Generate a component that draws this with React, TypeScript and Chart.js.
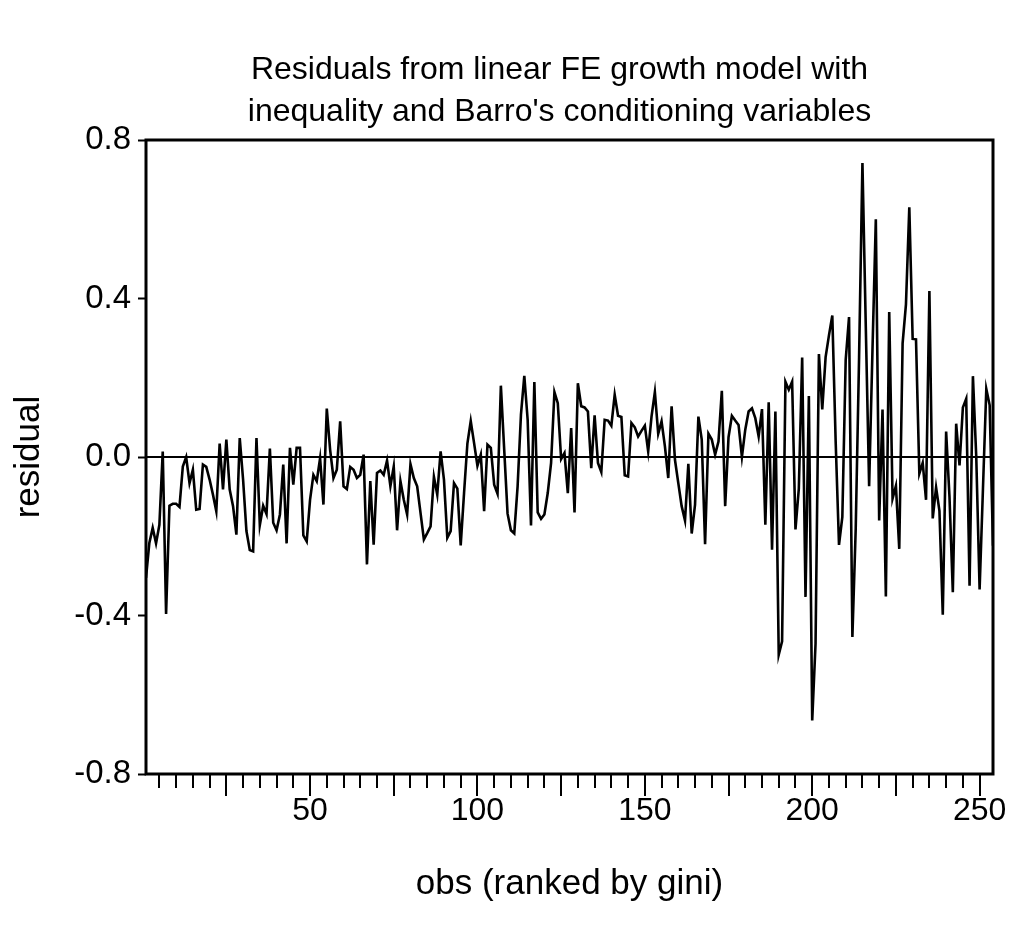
import React, { useEffect, useRef } from "react";
import { Chart, registerables } from "chart.js";

Chart.register(...registerables);

// Chart text
const titleLines = [
  "Residuals from linear FE growth model with",
  "inequality and Barro's conditioning variables",
];
const yAxisTitle = "residual";
const xAxisTitle = "obs (ranked by gini)";

// Residuals, one per observation (observations ranked by gini)
const residuals = [
  -0.305, -0.217, -0.179, -0.218, -0.171, 0.014, -0.396, -0.123, -0.118, -0.118,
  -0.126, -0.024, 0.0, -0.066, -0.032, -0.133, -0.131, -0.019, -0.025, -0.057,
  -0.095, -0.137, 0.034, -0.082, 0.044, -0.082, -0.124, -0.196, 0.048, -0.057,
  -0.187, -0.235, -0.238, 0.048, -0.172, -0.123, -0.144, 0.021, -0.166, -0.185,
  -0.145, -0.019, -0.218, 0.023, -0.07, 0.023, 0.023, -0.198, -0.213, -0.108,
  -0.045, -0.061, -0.003, -0.12, 0.122, 0.018, -0.053, -0.032, 0.09, -0.074,
  -0.081, -0.025, -0.032, -0.053, -0.045, 0.006, -0.271, -0.061, -0.221, -0.04,
  -0.034, -0.045, -0.009, -0.074, -0.024, -0.185, -0.061, -0.108, -0.145, -0.018,
  -0.053, -0.074, -0.141, -0.208, -0.192, -0.175, -0.05, -0.095, 0.014, -0.057,
  -0.204, -0.187, -0.066, -0.08, -0.223, -0.091, 0.034, 0.091, 0.035, -0.022,
  0.006, -0.137, 0.031, 0.023, -0.07, -0.093, 0.18, 0.018, -0.143, -0.185,
  -0.193, -0.074, 0.107, 0.205, 0.094, -0.173, 0.189, -0.14, -0.156, -0.145,
  -0.091, -0.015, 0.164, 0.136, -0.005, 0.01, -0.091, 0.073, -0.14, 0.186,
  0.128, 0.125, 0.115, -0.028, 0.105, -0.015, -0.038, 0.094, 0.092, 0.079,
  0.157, 0.104, 0.101, -0.046, -0.049, 0.086, 0.075, 0.052, 0.066, 0.079,
  0.014, 0.102, 0.164, 0.059, 0.09, 0.027, -0.053, 0.128, -0.007, -0.066,
  -0.124, -0.16, -0.017, -0.193, -0.12, 0.102, 0.044, -0.22, 0.059, 0.044,
  0.006, 0.039, 0.167, -0.124, 0.05, 0.104, 0.092, 0.081, 0.0, 0.069,
  0.115, 0.123, 0.098, 0.052, 0.121, -0.171, 0.138, -0.234, 0.115, -0.499,
  -0.465, 0.19, 0.17, 0.19, -0.183, -0.08, 0.251, -0.353, 0.154, -0.665,
  -0.47, 0.26, 0.12, 0.252, 0.307, 0.357, 0.04, -0.222, -0.151, 0.245,
  0.353, -0.454, -0.179, 0.252, 0.742, 0.33, -0.074, 0.27, 0.6, -0.16,
  0.12, -0.352, 0.366, -0.105, -0.073, -0.232, 0.287, 0.385, 0.63, 0.298,
  0.297, -0.042, -0.015, -0.108, 0.419, -0.155, -0.077, -0.136, -0.398, 0.064,
  -0.1, -0.341, 0.084, -0.021, 0.125, 0.147, -0.325, 0.204, 0.0, -0.334,
  -0.08, 0.172, 0.131, -0.224,
];

// Observation numbers 1..N
const obs = residuals.map((_, i) => i + 1);

// Axis ticks
const yTickValues = [-0.8, -0.4, 0, 0.4, 0.8];
const xMinorStep = 5;
const xMajorStep = 25;
const xLabelStep = 50;
const xLastTick = 250;

const FONT = '"Liberation Sans", Arial, Helvetica, sans-serif';
const TITLE_SIZE = 32;
const TICK_SIZE = 33;
const AXIS_TITLE_SIZE = 35;

// Two-line heading above the plot
const headingPlugin = {
  id: "heading",
  afterDraw(chart: any) {
    const { ctx, chartArea: a } = chart;
    const cx = (a.left + a.right) / 2 - 10;
    ctx.save();
    ctx.fillStyle = "#000";
    ctx.font = `${TITLE_SIZE}px ${FONT}`;
    ctx.textAlign = "center";
    ctx.textBaseline = "middle";
    titleLines.forEach((line, i) => ctx.fillText(line, cx, 62 + i * 42));
    ctx.restore();
  },
};

// Frame around the plot area, zero reference line and the x-axis tick marks
const framePlugin = {
  id: "eviewsFrame",
  beforeDatasetsDraw(chart: any) {
    const { ctx, chartArea: a, scales } = chart;
    const y0 = scales.y.getPixelForValue(0);
    ctx.save();
    ctx.strokeStyle = "#000";
    ctx.lineWidth = 2;
    ctx.beginPath();
    ctx.moveTo(a.left, y0);
    ctx.lineTo(a.right, y0);
    ctx.stroke();
    ctx.restore();
  },
  afterDraw(chart: any) {
    const { ctx, chartArea: a, scales } = chart;
    ctx.save();
    ctx.strokeStyle = "#000";
    ctx.lineWidth = 3;
    ctx.strokeRect(a.left, a.top, a.right - a.left, a.bottom - a.top);
    ctx.lineWidth = 2;
    ctx.beginPath();
    for (let v = xMinorStep; v <= xLastTick; v += xMinorStep) {
      const x = Math.round(scales.x.getPixelForValue(v));
      const len = v % xMajorStep === 0 ? 22 : 14;
      ctx.moveTo(x, a.bottom);
      ctx.lineTo(x, a.bottom + len);
    }
    ctx.stroke();
    ctx.restore();
  },
};

export default function App() {
  const canvasRef = useRef<HTMLCanvasElement>(null);

  useEffect(() => {
    const canvas = canvasRef.current;
    if (!canvas) return;
    const chart = new Chart(canvas, {
      type: "line",
      data: {
        labels: obs,
        datasets: [
          {
            data: residuals,
            borderColor: "#000",
            borderWidth: 2.6,
            pointRadius: 0,
            tension: 0,
            fill: false,
          },
        ],
      },
      options: {
        responsive: false,
        animation: false,
        devicePixelRatio: 1,
        layout: { padding: { left: 0, right: 16, top: 132, bottom: 0 } },
        plugins: {
          legend: { display: false },
          tooltip: { enabled: false },
          title: { display: false },
        },
        scales: {
          x: {
            type: "linear",
            min: 1,
            max: obs.length,
            afterBuildTicks: (scale: any) => {
              const t = [];
              for (let v = xMinorStep; v <= xLastTick; v += xMinorStep) t.push({ value: v });
              scale.ticks = t;
            },
            afterFit: (scale: any) => {
              scale.height = 150;
              scale.paddingLeft = 0;
              scale.paddingRight = 0;
            },
            grid: { display: false, drawTicks: false },
            border: { display: false },
            ticks: {
              autoSkip: false,
              maxRotation: 0,
              minRotation: 0,
              padding: 18,
              color: "#000",
              font: { family: FONT, size: 32 },
              callback: (v: any) => (Number(v) % xLabelStep === 0 ? String(v) : ""),
            },
            title: {
              display: true,
              text: xAxisTitle,
              color: "#000",
              font: { family: FONT, size: AXIS_TITLE_SIZE },
              padding: { top: 0, bottom: 19 },
            },
          },
          y: {
            type: "linear",
            min: -0.8,
            max: 0.8,
            afterBuildTicks: (scale: any) => {
              scale.ticks = yTickValues.map((value) => ({ value }));
            },
            afterFit: (scale: any) => {
              scale.width = 138;
              scale.paddingTop = 0;
              scale.paddingBottom = 0;
            },
            grid: {
              display: true,
              drawOnChartArea: false,
              drawTicks: true,
              tickLength: 8,
              tickColor: "#000",
              tickWidth: 2,
            },
            border: { display: false },
            ticks: {
              padding: 7,
              color: "#000",
              font: { family: FONT, size: TICK_SIZE },
              callback: (v: any) => {
                const n = Number(v);
                return Math.abs(n) < 1e-9 ? "0.0" : n.toFixed(1);
              },
            },
            title: {
              display: true,
              text: yAxisTitle,
              color: "#000",
              font: { family: FONT, size: AXIS_TITLE_SIZE },
              padding: { top: 0, bottom: 0 },
            },
          },
        },
      },
      plugins: [framePlugin, headingPlugin],
    });
    return () => chart.destroy();
  }, []);

  return (
    <div style={{ width: 1001, height: 916 }}>
      <canvas ref={canvasRef} width={1001} height={916} style={{ display: "block" }} />
    </div>
  );
}
